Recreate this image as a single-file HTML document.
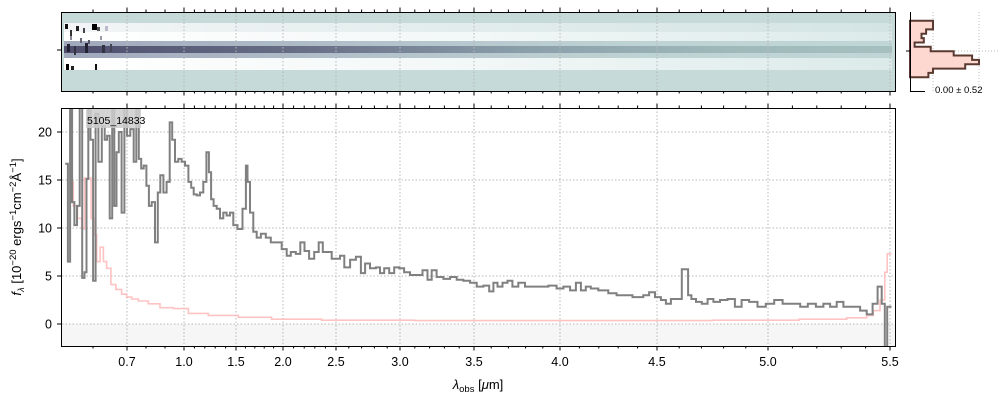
<!DOCTYPE html>
<html><head><meta charset="utf-8"><style>
html,body{margin:0;padding:0;background:#fff;}
svg{display:block;font-family:"Liberation Sans","DejaVu Sans",sans-serif;}
</style></head><body>
<svg id="c" width="1000" height="400" viewBox="0 0 1000 400" xmlns="http://www.w3.org/2000/svg">
<defs>
<clipPath id="mainclip"><rect x="62" y="108" width="833" height="238"/></clipPath>
<linearGradient id="trace" x1="0" x2="1" y1="0" y2="0">
<stop offset="0" stop-color="#4e4e6c"/><stop offset="0.3" stop-color="#6a7088"/><stop offset="0.55" stop-color="#8a9eaa"/><stop offset="0.8" stop-color="#9fb9ba"/><stop offset="1" stop-color="#a6c0c0"/></linearGradient>
<linearGradient id="trace2" x1="0" x2="1" y1="0" y2="0">
<stop offset="0" stop-color="#a0a8bc"/><stop offset="0.4" stop-color="#b4c4cc"/><stop offset="0.7" stop-color="#bed3d3"/><stop offset="1" stop-color="#c0d6d6"/></linearGradient>
<linearGradient id="wband" x1="0" x2="1" y1="0" y2="0">
<stop offset="0" stop-color="#ffffff"/><stop offset="0.5" stop-color="#f2f7f7"/><stop offset="1" stop-color="#dceaea"/></linearGradient>
<linearGradient id="wband2" x1="0" x2="1" y1="0" y2="0">
<stop offset="0" stop-color="#f2f5f6"/><stop offset="0.5" stop-color="#e2ecec"/><stop offset="1" stop-color="#d4e4e4"/></linearGradient>
</defs>
<g id="top-panel">
<rect x="62" y="12" width="833" height="79" fill="#c6dbd9"/>
<rect x="64" y="23" width="828" height="9" fill="url(#wband2)"/>
<rect x="64" y="32" width="828" height="9" fill="url(#wband)"/>
<rect x="64" y="41" width="828" height="5" fill="url(#trace2)"/>
<rect x="64" y="46" width="828" height="7" fill="url(#trace)"/>
<rect x="64" y="53" width="828" height="5" fill="url(#trace2)"/>
<rect x="64" y="58" width="828" height="12" fill="url(#wband)"/>
<g id="noise"></g>
<g id="topgrid"></g>
<rect x="61.5" y="12.5" width="834" height="79" fill="none" stroke="#000" stroke-width="1"/>
<line x1="57" y1="50" x2="61" y2="50" stroke="#000"/>
</g>
<g id="hist">
<line x1="933" y1="12" x2="933" y2="91" stroke="#bbb" stroke-dasharray="1,2"/>
<line x1="979" y1="12" x2="979" y2="91" stroke="#bbb" stroke-dasharray="1,2"/>
<line x1="910" y1="51" x2="1000" y2="51" stroke="#bbb" stroke-dasharray="1,2"/>
<path id="histpath" fill="#fdd8d0" stroke="#5a3a30" stroke-width="2"/>
<line x1="910.5" y1="12" x2="910.5" y2="91" stroke="#000"/>
<line x1="910" y1="91.5" x2="925" y2="91.5" stroke="#000"/>
<line x1="906" y1="51" x2="910" y2="51" stroke="#000"/>
<text x="935" y="93" font-size="9.5" fill="#000">0.00 ± 0.52</text>
</g>
<g id="main">
<rect x="62" y="324" width="833" height="22" fill="#f6f6f6"/>
<g id="grid"></g>
<g clip-path="url(#mainclip)">
<path id="errline" fill="none" stroke="#ffb4b4" stroke-opacity="0.8" stroke-width="1.6"/>
<path id="fluxline" fill="none" stroke="#808080" stroke-width="2"/>
</g>
<rect x="86" y="109" width="55" height="19" fill="#cccccc" opacity="0.85"/>
<text x="87" y="124" font-size="10.5" fill="#000">5105_14833</text>
<rect x="61.5" y="108.5" width="834" height="238" fill="none" stroke="#000" stroke-width="1"/>
<g id="ticks"></g>
<text x="478" y="389" font-size="13" text-anchor="middle"><tspan font-style="italic">λ</tspan><tspan font-size="9.5" dy="3">obs</tspan><tspan dy="-3"> [</tspan><tspan font-style="italic">μ</tspan>m]</text>
<text transform="translate(21,227) rotate(-90)" font-size="13" text-anchor="middle"><tspan font-style="italic">f</tspan><tspan font-size="9.5" dy="3" font-style="italic">λ</tspan><tspan dy="-3"> [10</tspan><tspan font-size="9.5" dy="-5">−20</tspan><tspan dy="5"> ergs</tspan><tspan font-size="9.5" dy="-5">−1</tspan><tspan dy="5">cm</tspan><tspan font-size="9.5" dy="-5">−2</tspan><tspan dy="5">Å</tspan><tspan font-size="9.5" dy="-5">−1</tspan><tspan dy="5">]</tspan></text>
</g>
</svg>
<script>
const xTickValues=[0.7,1.0,1.5,2.0,2.5,3.0,3.5,4.0,4.5,5.0,5.5];
const xTickLabels=["0.7","1.0","1.5","2.0","2.5","3.0","3.5","4.0","4.5","5.0","5.5"];
const yTickValues=[0,5,10,15,20];
const yTickLabels=["0","5","10","15","20"];
const waveFlux=[0.515,0.523,0.529,0.536,0.544,0.553,0.561,0.569,0.576,0.582,0.588,0.596,0.604,0.611,0.621,0.631,0.638,0.645,0.653,0.660,0.665,0.673,0.679,0.689,0.696,0.707,0.728,0.742,0.756,0.768,0.781,0.795,0.809,0.821,0.839,0.856,0.868,0.883,0.900,0.917,0.932,0.944,0.961,0.979,0.996,1.026,1.058,1.080,1.106,1.138,1.170,1.202,1.228,1.250,1.272,1.298,1.330,1.362,1.394,1.426,1.458,1.490,1.543,1.596,1.614,1.631,1.667,1.702,1.738,1.791,1.844,1.897,1.950,2.019,2.050,2.097,2.144,2.182,2.223,2.270,2.318,2.355,2.396,2.443,2.475,2.518,2.545,2.584,2.636,2.675,2.714,2.740,2.792,2.831,2.857,2.896,2.935,2.974,3.011,3.045,3.090,3.135,3.169,3.203,3.225,3.270,3.316,3.361,3.405,3.451,3.496,3.535,3.574,3.603,3.622,3.651,3.680,3.709,3.738,3.777,3.816,3.864,3.903,3.961,4.000,4.035,4.069,4.095,4.120,4.146,4.172,4.223,4.275,4.309,4.352,4.395,4.412,4.447,4.472,4.506,4.529,4.551,4.574,4.604,4.619,4.634,4.646,4.664,4.687,4.717,4.739,4.769,4.799,4.836,4.866,4.896,4.934,4.971,5.008,5.043,5.077,5.118,5.146,5.180,5.213,5.241,5.268,5.295,5.323,5.364,5.391,5.418,5.439,5.459,5.473,5.484,5.493,5.500];
const fluxValues=[16.7,6.5,25,12.7,10.3,12.3,25,4.8,5.4,15.1,25,19.2,4.5,21.9,16.9,20.6,19.2,19.6,11.0,25,12.3,17.9,20.0,11.6,25,19.6,20.3,16.9,25,17.2,16.2,16.5,14.4,12.3,12.7,8.5,13.7,15.5,13.7,14.8,21.0,19.2,16.9,17.2,16.9,16.5,14.8,14.2,13.5,13.4,13.7,14.8,17.9,15.8,13.0,12.3,12.0,11.0,11.6,11.3,11.6,10.3,9.9,12.0,16.5,14.8,11.6,9.6,9.0,9.4,9.0,8.5,8.5,7.8,7.1,7.5,7.3,8.5,7.6,6.8,7.5,8.5,7.5,7.5,6.8,6.8,7.1,5.9,6.7,7.0,5.3,6.3,5.8,5.9,5.3,5.8,5.3,5.9,5.8,5.4,5.1,5.1,5.6,4.6,5.6,4.9,4.7,4.9,4.6,4.5,4.3,3.9,4.0,3.4,4.3,3.9,4.3,4.5,3.9,4.3,3.9,3.9,3.9,4.0,3.7,3.9,3.5,4.3,3.5,3.9,3.7,3.5,3.2,3.0,3.0,2.8,2.8,3.0,3.3,2.8,2.5,2.1,2.6,2.6,5.7,5.7,3.0,2.6,2.3,2.1,2.6,2.3,2.5,2.6,1.8,2.5,2.3,1.8,2.1,2.5,2.1,2.1,1.8,2.1,1.8,2.1,1.8,2.3,1.8,1.8,1.4,1.0,2.1,3.9,2.1,-5,1.8,1.8];
const waveErr=[0.520,0.531,0.542,0.558,0.569,0.576,0.590,0.598,0.606,0.616,0.626,0.635,0.645,0.660,0.674,0.694,0.707,0.742,0.777,0.847,0.900,0.988,1.106,1.362,1.702,2.050,2.648,3.5,4.5,5.0,5.254,5.391,5.418,5.445,5.473,5.484,5.493,5.500];
const errValues=[25,14.8,12.3,11.0,9.9,15.2,15.2,11.0,9.3,6.5,8.0,6.5,5.8,4.1,3.6,3.1,2.8,2.6,2.4,2.1,1.7,1.6,1.1,0.9,0.7,0.5,0.4,0.35,0.35,0.4,0.5,0.65,0.9,1.4,2.5,5.4,7.3,7.3];
const histBins=[-0.9,-0.75,-0.6,-0.45,-0.3,-0.15,0,0.15,0.3,0.45,0.6,0.75,0.9];
const histCounts=[1,1,0.7,0.5,0.6,0.2,0.9,1.9,2.7,3.0,2.4,1.0,0.8];

const knotW=[0.5,0.6,0.7,1.0,1.5,2.0,2.5,3.0,3.5,4.0,4.5,5.0,5.5,5.53];
const knotX=[62,93,127,184,236,283,336,400,474,560,657,768,890,895];
function xs(w){let i=0;while(i<knotW.length-2&&w>knotW[i+1])i++;const t=(w-knotW[i])/(knotW[i+1]-knotW[i]);return knotX[i]+t*(knotX[i+1]-knotX[i]);}
function ys(f){return 324-9.6*f;}
const NS="http://www.w3.org/2000/svg";
function mk(tag,attrs,parent){const e=document.createElementNS(NS,tag);for(const k in attrs)e.setAttribute(k,attrs[k]);parent.appendChild(e);return e;}
function stepPath(ws,vs){let d="";for(let i=0;i<ws.length;i++){const x=xs(ws[i]);const x0=i>0?(xs(ws[i-1])+x)/2:x-1.5;const x1=i<ws.length-1?(xs(ws[i+1])+x)/2:x+1.5;const y=ys(vs[i]);d+=(i===0?"M":"L")+x0.toFixed(1)+","+y.toFixed(1)+"L"+x1.toFixed(1)+","+y.toFixed(1);}return d;}
document.getElementById('fluxline').setAttribute('d',stepPath(waveFlux,fluxValues));
document.getElementById('errline').setAttribute('d',stepPath(waveErr,errValues));
const grid=document.getElementById('grid'),ticks=document.getElementById('ticks'),tg=document.getElementById('topgrid');
xTickValues.forEach((v,i)=>{const x=xs(v);
 const g=mk('line',{x1:x,y1:108,x2:x,y2:346,stroke:'#b8b8b8','stroke-dasharray':'1.5,2'},grid);
 
 
 const g2=mk('line',{x1:x,y1:12,x2:x,y2:91,stroke:'#b8b8b8','stroke-dasharray':'1.5,2'},tg);
 
 
 const t=mk('text',{x:x,y:366,'font-size':12.5,'text-anchor':'middle'},ticks);
 
 
 t.textContent=xTickLabels[i];
 [[346,350.5],[108,103.5],[91,95.5],[12,7.5]].forEach(p=>{const l=mk('line',{x1:x,y1:p[0],x2:x,y2:p[1],stroke:'#000'},ticks);
  
  });
});
for(let w=0.6;w<5.51;w+=0.1){const r=Math.round(w*10)/10;if(xTickValues.some(v=>Math.abs(v-r)<1e-6))continue;if(r>1&&Math.abs(r*2-Math.round(r*2))<1e-6)continue;const x=xs(r);
 [[346,348.5],[108,105.5],[91,93.5],[12,9.5]].forEach(p=>{const l=mk('line',{x1:x,y1:p[0],x2:x,y2:p[1],stroke:'#000'},ticks);
  
  });}
yTickValues.forEach((v,i)=>{const y=ys(v);
 const g=mk('line',{x1:62,y1:y,x2:895,y2:y,stroke:'#b8b8b8','stroke-dasharray':'1.5,2'},grid);
 
 
 const l=mk('line',{x1:57,y1:y,x2:61,y2:y,stroke:'#000'},ticks);
 
 
 const t=mk('text',{x:52,y:y+4.5,'font-size':12.5,'text-anchor':'end'},ticks);
 
 
 t.textContent=yTickLabels[i];});
(function(){const hx=v=>910+v*23;const hy=b=>49+b*29;const h=0.15*29;let d="M910,"+(hy(histBins[0])-h/2);
histBins.forEach((b,i)=>{const y0=hy(b)-h/2,y1=hy(b)+h/2;d+="L"+hx(histCounts[i]).toFixed(1)+","+y0.toFixed(1)+"L"+hx(histCounts[i]).toFixed(1)+","+y1.toFixed(1);});
d+="L910,"+(hy(histBins[histBins.length-1])+h/2)+"Z";document.getElementById('histpath').setAttribute('d',d);})();
const noise=document.getElementById('noise');
[[65,24,3,5,'#111'],[70,30,2,6,'#333'],[76,26,3,5,'#222'],[83,28,2,5,'#444'],[92,24,5,6,'#000'],[97,27,3,4,'#555'],[66,64,3,6,'#000'],[71,66,3,4,'#222'],[95,64,2,6,'#111'],[80,38,2,5,'#667'],[88,40,2,4,'#556'],[67,44,3,8,'#223'],[74,46,2,9,'#334'],[85,43,3,10,'#223'],[102,45,3,8,'#334'],[110,44,2,8,'#445'],[70,36,2,4,'#889'],[100,36,2,4,'#99a'],[105,26,3,5,'#bbc']].forEach(p=>{
 const r=mk('rect',{x:p[0],y:p[1],width:p[2],height:p[3],fill:p[4]},noise);
 
 });
</script>
</body></html>
